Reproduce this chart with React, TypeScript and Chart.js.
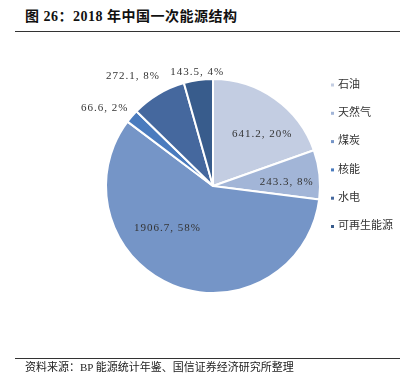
import React, { useEffect, useRef } from "react";
import { Chart, registerables } from "chart.js";

Chart.register(...registerables);

const categories = ["石油", "天然气", "煤炭", "核能", "水电", "可再生能源"];
const values = [641.2, 243.3, 1906.7, 66.6, 272.1, 143.5];
const percentLabels = ["20%", "8%", "58%", "2%", "8%", "4%"];
const colors = ["#C3CDE2", "#A2B5D7", "#7595C7", "#4A7BBE", "#45689E", "#385C8C"];

const TITLE = "图 26：2018 年中国一次能源结构";
const SOURCE = "资料来源：BP 能源统计年鉴、国信证券经济研究所整理";

// label placement: [radius factor, angle shift (deg), align]
const labelPlacement: [number, number, CanvasTextAlign][] = [
  [0.67, 8, "center"],
  [0.69, 3, "center"],
  [0.58, 25, "center"],
  [1.075, 2, "right"],
  [1.14, 5, "right"],
  [1.075, 0, "center"],
];

const FONT = "'Liberation Serif', 'Noto Sans CJK SC', serif";

const labelPlugin = {
  id: "sliceLabels",
  afterDatasetsDraw(chart: any) {
    const ctx = chart.ctx;
    const meta = chart.getDatasetMeta(0);
    ctx.save();
    ctx.font = `11px ${FONT}`;
    (ctx as any).letterSpacing = "1px";
    ctx.fillStyle = "#333333";
    ctx.textBaseline = "middle";
    meta.data.forEach((arc: any, i: number) => {
      const p = arc.getProps(["x", "y", "startAngle", "endAngle", "outerRadius"], true);
      const [rf, shift, align] = labelPlacement[i];
      const mid = (p.startAngle + p.endAngle) / 2 + (shift * Math.PI) / 180;
      const r = p.outerRadius * rf;
      const x = p.x + Math.cos(mid) * r;
      const y = p.y + Math.sin(mid) * r;
      ctx.textAlign = align;
      const txt = `${values[i].toFixed(1)}, ${percentLabels[i]}`;
      ctx.fillText(txt, x, y);
    });
    ctx.restore();
  },
};

const legendPlugin = {
  id: "sideLegend",
  afterDraw(chart: any) {
    const ctx = chart.ctx;
    const labels = chart.data.labels as string[];
    const bg = chart.data.datasets[0].backgroundColor as string[];
    ctx.save();
    ctx.font = `11px ${FONT}`;
    ctx.textBaseline = "middle";
    ctx.textAlign = "left";
    labels.forEach((lab, i) => {
      const y = 85 + i * 28.3;
      ctx.fillStyle = bg[i];
      ctx.fillRect(331, y - 1.5, 3, 3);
      ctx.fillStyle = "#333333";
      ctx.fillText(lab, 338, y);
    });
    ctx.restore();
  },
};

export default function App() {
  const ref = useRef<HTMLCanvasElement | null>(null);
  useEffect(() => {
    if (!ref.current) return;
    const chart = new Chart(ref.current, {
      type: "pie",
      data: {
        labels: categories,
        datasets: [
          {
            data: values,
            backgroundColor: colors,
            borderColor: "#ffffff",
            borderWidth: 2,
          },
        ],
      },
      options: {
        animation: false,
        responsive: false,
        radius: 107,
        layout: { padding: { left: 13, right: 0, top: 0, bottom: 16 } },
        plugins: {
          legend: { display: false },
          tooltip: { enabled: false },
          title: { display: false },
        },
      } as any,
      plugins: [labelPlugin, legendPlugin],
    });
    return () => chart.destroy();
  }, []);

  return (
    <div
      style={{
        position: "fixed",
        left: 0,
        top: 0,
        width: 413,
        height: 388,
        background: "#ffffff",
        overflow: "hidden",
      }}
    >
      <div
        style={{
          position: "absolute",
          left: 25,
          top: 8,
          fontFamily: FONT,
          fontWeight: "bold",
          fontSize: 14,
          letterSpacing: "0.5px",
          lineHeight: "18px",
          color: "#111",
          whiteSpace: "nowrap",
        }}
      >
        {TITLE}
      </div>
      <div style={{ position: "absolute", left: 15, top: 31, width: 385, height: 1, background: "#333" }} />
      <canvas ref={ref} width={413} height={388} style={{ position: "absolute", left: 0, top: 0 }} />
      <div style={{ position: "absolute", left: 15, top: 358, width: 385, height: 1, background: "#333" }} />
      <div
        style={{
          position: "absolute",
          left: 25,
          top: 360,
          fontFamily: FONT,
          fontSize: 11,
          lineHeight: "14px",
          color: "#222",
          whiteSpace: "nowrap",
        }}
      >
        {SOURCE}
      </div>
    </div>
  );
}
